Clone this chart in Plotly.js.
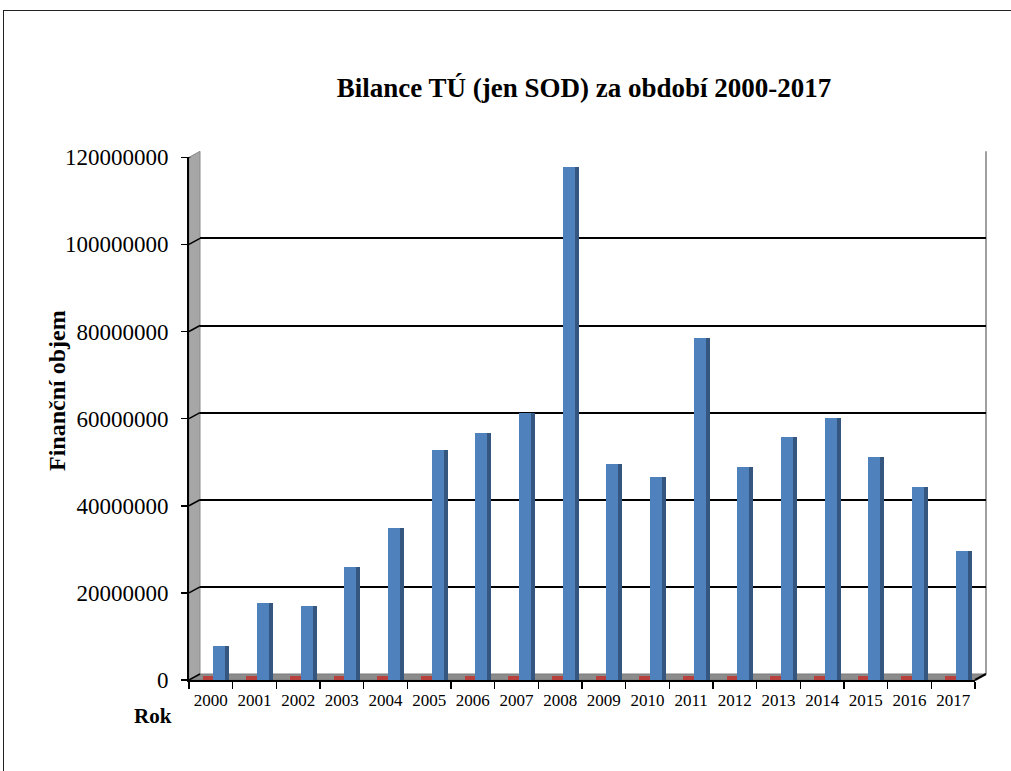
<!DOCTYPE html>
<html>
<head>
<meta charset="utf-8">
<script src="https://cdn.plot.ly/plotly-3.0.1.min.js"></script>
<style>
  body { margin: 0; background: #fff; }
  #frame { position: absolute; left: 3px; top: 10px; width: 1100px; height: 900px; border: 1.5px solid #222; }
  #chart { position: absolute; left: 0; top: 0; width: 1011px; height: 771px; }
</style>
</head>
<body>
<div id="frame"></div>
<div id="chart"></div>
<script>
// ---- data ----
const years = ["2000","2001","2002","2003","2004","2005","2006","2007","2008",
               "2009","2010","2011","2012","2013","2014","2015","2016","2017"];
const sodValues = [7900000, 17600000, 17000000, 26000000, 34800000, 52900000, 56700000, 61300000, 117800000,
                   49500000, 46500000, 78600000, 48800000, 55900000, 60100000, 51300000, 44200000, 29700000];
const otherValues = [1000000, 1000000, 1000000, 1000000, 1000000, 1000000, 1000000, 1000000, 1000000,
                     1000000, 1000000, 1000000, 1000000, 1000000, 1000000, 1000000, 1000000, 1000000];
const yTicks = [0, 20000000, 40000000, 60000000, 80000000, 100000000, 120000000];
const chartTitle = "Bilance TÚ (jen SOD) za období 2000-2017";
const yTitle = "Finanční objem";
const xTitle = "Rok";

// ---- geometry (pixels in the 1011x771 page) ----
const W = 1011, H = 771;
const L = 189, R = 986, T = 150, B = 680;
const pw = R - L, ph = B - T;
const depthX = 11, depthY = 6;
const frontTop = 157.3;
const px2x = p => (p - L) / pw;
const px2y = p => (B - p) / ph;
const yMax = 120000000;
const unitPerPx = yMax / (B - frontTop);

const serif = "Liberation Serif";

const traces = [
  { type: "bar", x: years, y: otherValues, xaxis: "x2", yaxis: "y2",
    width: 0.25, offset: -0.19, marker: { color: "#b8413d" }, hoverinfo: "skip" },
  { type: "bar", x: years, y: sodValues, xaxis: "x2", yaxis: "y2",
    width: 0.275, offset: 0.057, marker: { color: "#4f81bd" }, hoverinfo: "skip" },
  { type: "bar", x: years, y: sodValues, xaxis: "x2", yaxis: "y2",
    width: 0.09, offset: 0.332, marker: { color: "#34567f" }, hoverinfo: "skip" },
  { type: "scatter", x: years, y: sodValues, xaxis: "x", yaxis: "y",
    mode: "markers", marker: { opacity: 0 }, hoverinfo: "skip" }
];

const shapes = [
  { type: "path", xref: "paper", yref: "paper", layer: "below",
    path: `M ${px2x(L)} ${px2y(B)} L ${px2x(L)} ${px2y(frontTop)} L ${px2x(L+depthX)} ${px2y(frontTop-depthY)} L ${px2x(L+depthX)} ${px2y(B-depthY)} Z`,
    fillcolor: "#a6a6a6", line: { color: "#8a8a8a", width: 1 } },
  { type: "path", xref: "paper", yref: "paper", layer: "below",
    path: `M ${px2x(L)} ${px2y(B)} L ${px2x(R-depthX)} ${px2y(B)} L ${px2x(R)} ${px2y(B-depthY)} L ${px2x(L+depthX)} ${px2y(B-depthY)} Z`,
    fillcolor: "#8c8c8c", line: { color: "#7a7a7a", width: 1 } },
  { type: "line", xref: "paper", yref: "paper", layer: "below",
    x0: 1, x1: 1, y0: px2y(B-depthY), y1: px2y(frontTop-depthY),
    line: { color: "#a0a0a0", width: 2 } },
  { type: "line", xref: "paper", yref: "paper",
    x0: px2x(R-depthX), x1: 1, y0: 0, y1: px2y(B-depthY),
    line: { color: "#000", width: 2 } }
];
yTicks.forEach(v => {
  shapes.push({ type: "line", xref: "paper", yref: "y2",
    x0: 0, x1: px2x(L+depthX), y0: v, y1: v + depthY * unitPerPx,
    line: { color: "#000", width: 1.5 } });
});

const layout = {
  width: W, height: H,
  margin: { l: L, r: W - R, t: T, b: H - B, pad: 0 },
  paper_bgcolor: "rgba(0,0,0,0)",
  plot_bgcolor: "rgba(0,0,0,0)",
  showlegend: false,
  bargap: 0, barmode: "overlay",
  font: { family: serif, color: "#000" },
  xaxis: { domain: [px2x(L+depthX), 1], range: [-0.5, 17.5], type: "category",
           visible: false, fixedrange: true },
  yaxis: { domain: [px2y(B-depthY), px2y(frontTop-depthY)], range: [0, yMax],
           tickvals: yTicks, showticklabels: false, ticks: "", showline: false,
           zeroline: false, showgrid: true, gridcolor: "#000", gridwidth: 2, fixedrange: true },
  xaxis2: { domain: [0, px2x(R-depthX)], range: [-0.5, 17.5], type: "category",
            anchor: "y2", showline: true, linecolor: "#000", linewidth: 2,
            ticks: "outside", tickson: "boundaries", ticklen: 7, tickcolor: "#000", tickwidth: 1.5,
            showgrid: false, zeroline: false, tickangle: 0, ticklabelstandoff: 4,
            tickfont: { family: serif, size: 17, color: "#000" }, fixedrange: true },
  yaxis2: { domain: [0, px2y(frontTop)], range: [0, yMax], anchor: "x2",
            tickvals: yTicks, tickformat: "d",
            showline: true, linecolor: "#000", linewidth: 2,
            ticks: "outside", ticklen: 6, tickcolor: "#000", tickwidth: 1.5,
            showgrid: false, zeroline: false, ticklabelstandoff: 8,
            tickfont: { family: serif, size: 23, color: "#000" }, fixedrange: true },
  title: { text: chartTitle, xref: "paper", x: (584 - L) / pw, xanchor: "center",
           yref: "container", y: 1 - 88 / H, yanchor: "middle",
           font: { family: serif, size: 27, color: "#000", weight: 700 } },
  annotations: [
    { text: yTitle, xref: "paper", yref: "paper",
      x: px2x(57), y: px2y(391), xanchor: "center", yanchor: "middle",
      textangle: -90, showarrow: false, font: { family: serif, size: 24, color: "#000", weight: 700 } },
    { text: xTitle, xref: "paper", yref: "paper",
      x: px2x(153), y: px2y(716), xanchor: "center", yanchor: "middle",
      showarrow: false, font: { family: serif, size: 21, color: "#000", weight: 700 } }
  ],
  shapes: shapes
};

Plotly.newPlot("chart", traces, layout, { displayModeBar: false, staticPlot: true });
</script>
</body>
</html>
